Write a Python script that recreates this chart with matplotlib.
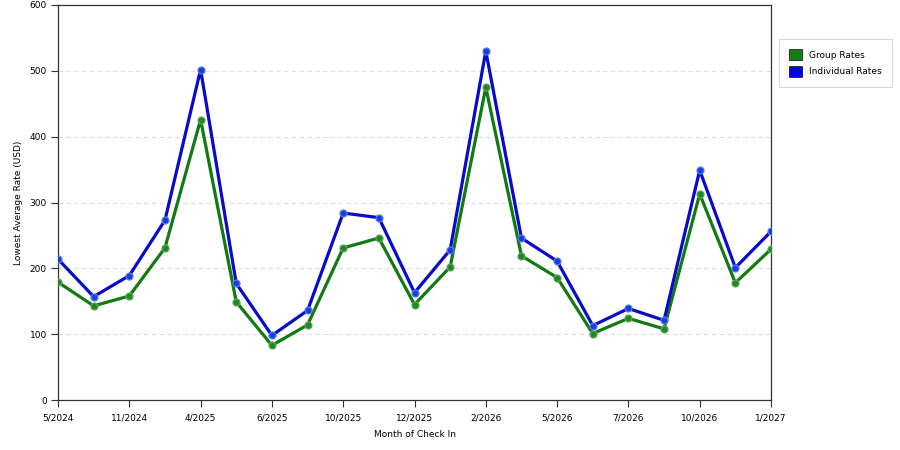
import numpy as np
import matplotlib.pyplot as plt
from matplotlib.patches import Patch

months = ['5/2024', '', '11/2024', '', '4/2025', '', '6/2025', '', '10/2025', '',
          '12/2025', '', '2/2026', '', '5/2026', '', '7/2026', '', '10/2026', '', '1/2027']
individual_rates = [214, 157, 189, 273, 502, 177, 98, 136, 284, 277, 163, 228,
                    530, 246, 211, 113, 139, 121, 349, 201, 256]
group_rates = [179, 143, 158, 231, 426, 149, 83, 114, 231, 246, 145, 202,
               475, 219, 186, 101, 124, 108, 313, 178, 229]

x = np.arange(len(months))

fig = plt.figure(figsize=(9, 4.5), dpi=100)
ax = fig.add_axes([58 / 900, 1 - 400 / 450, (771 - 58) / 900, 395 / 450])

ax.plot(x, group_rates, color='#127a12', lw=2.3, marker='o', ms=5,
        mfc='#238823', mec='#5aa55a', mew=0.9, zorder=3)
ax.plot(x, individual_rates, color='#0a0acc', lw=2.3, marker='o', ms=5,
        mfc='#1440dd', mec='#5a7ae6', mew=0.9, zorder=4)

ax.set_xlim(0, len(months) - 1)
ax.set_ylim(0, 600)
ax.set_yticks(range(0, 601, 100))
ax.set_xticks(x[::2])
ax.set_xticklabels(months[::2])
ax.tick_params(labelsize=6.5, length=5, width=0.8, color='#333333', pad=3)
ax.tick_params(axis='x', pad=5)
for yv in range(100, 600, 100):
    ax.axhline(yv, color='#dddddd', lw=0.8, ls=(0, (4, 3)), zorder=1)
for s in ax.spines.values():
    s.set_color('#333333')
    s.set_linewidth(0.9)

ax.set_xlabel('Month of Check In', fontsize=6.5, labelpad=5)
ax.set_ylabel('Lowest Average Rate (USD)', fontsize=6.5, labelpad=5)

handles = [Patch(facecolor='#118011', edgecolor='#222222', lw=0.6, label='Group Rates'),
           Patch(facecolor='#0000ee', edgecolor='#222222', lw=0.6, label='Individual Rates')]
leg = fig.legend(handles=handles, loc='upper left', bbox_to_anchor=(779 / 900, 1 - 39 / 450),
                 fontsize=6.5, frameon=True, fancybox=False, handlelength=1.4,
                 handleheight=1.4, handletextpad=0.8, borderpad=1.15, labelspacing=0.7,
                 borderaxespad=0)
leg.get_frame().set_edgecolor('#cccccc')
leg.get_frame().set_linewidth(0.8)

fig.savefig('out.png', dpi=100)
